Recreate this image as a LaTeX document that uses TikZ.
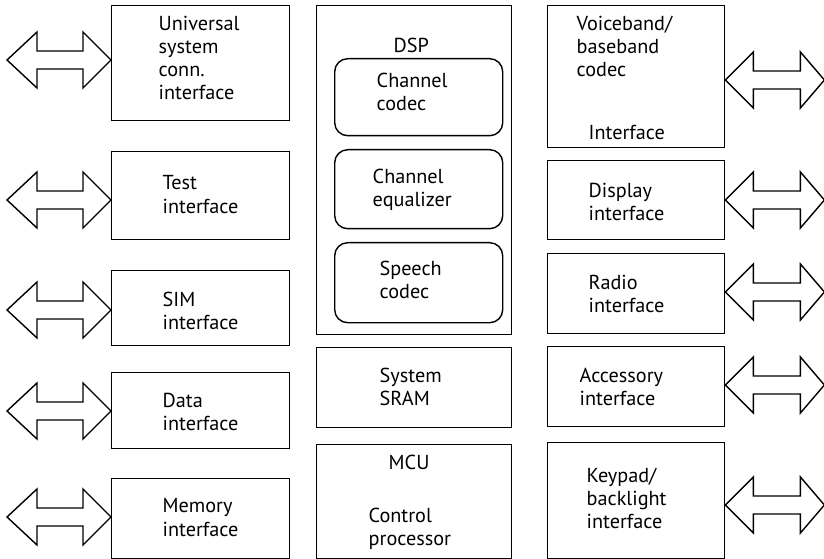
\documentclass[tikz,border=0pt]{standalone}
\usepackage{fontspec}
\setmainfont{PT Sans}
\begin{document}
\begin{tikzpicture}[x=1bp,y=-1bp, line width=1.4bp, line join=miter,
  box/.style={draw, rectangle, inner sep=0pt, anchor=north west},
  lbox/.style={box, minimum width=178bp},
  cbox/.style={box, minimum width=195bp},
  rtbox/.style={box, minimum width=177bp},
  rbox/.style={box, rounded corners=13bp, minimum width=168bp},
  lbl/.style={align=left, inner sep=0pt, anchor=north west, font=\fontsize{20.3}{23.3}\selectfont},
  larr/.pic={\draw (0,0) -- (-28,-28) -- (-28,-9) -- (-74,-9) -- (-74,-28) -- (-104,0)
                -- (-74,28) -- (-74,9) -- (-28,9) -- (-28,28) -- cycle;},
  rarr/.pic={\draw (0,0) -- (28,-28) -- (28,-9) -- (75,-9) -- (75,-28) -- (99,0)
                -- (75,28) -- (75,9) -- (28,9) -- (28,28) -- cycle;}]
\useasboundingbox (0,0) rectangle (824,559);

% left column
\node[lbox, minimum height=115bp] (univ) at (111,5) {};
\node[lbox, minimum height=88bp]  (test) at (111,151) {};
\node[lbox, minimum height=75bp]  (sim)  at (111,270) {};
\node[lbox, minimum height=76bp]  (data) at (111,372) {};
\node[lbox, minimum height=80bp]  (mem)  at (111,478) {};
\node[lbl] (tuniv) at (158,15) {Universal\\system\\conn.\\interface};
\node[lbl] (ttest) at (162,175) {Test\\interface};
\node[lbl] (tsim)  at (162,291) {SIM\\interface};
\node[lbl] (tdata) at (162,392) {Data\\interface};
\node[lbl] (tmem)  at (162,498) {Memory\\interface};

% centre column
\node[cbox, minimum height=329bp] (dsp)  at (316,5) {};
\node[rbox, minimum height=77bp]  (chc)  at (334,58) {};
\node[rbox, minimum height=79bp]  (cheq) at (334,149) {};
\node[rbox, minimum height=80bp]  (spc)  at (334,242) {};
\node[cbox, minimum height=80bp]  (sram) at (316,347) {};
\node[cbox, minimum height=114bp] (mcu)  at (316,444) {};
\node[lbl] (tdsp)  at (393,37)  {DSP};
\node[lbl] (tchc)  at (376,72)  {Channel\\codec};
\node[lbl] (tcheq) at (372,168) {Channel\\equalizer};
\node[lbl] (tspc)  at (379,260) {Speech\\codec};
\node[lbl] (tsram) at (379,367) {System\\SRAM};
\node[lbl] (tmcu)  at (388,454) {MCU};
\node[lbl] (tctl)  at (368,507) {Control\\processor};

% right column
\node[rtbox, minimum height=142bp] (voice) at (547,5) {};
\node[rtbox, minimum height=79bp]  (disp)  at (547,160) {};
\node[rtbox, minimum height=80bp]  (radio) at (547,253) {};
\node[rtbox, minimum height=80bp]  (acc)   at (547,346) {};
\node[rtbox, minimum height=116bp] (key)   at (547,442) {};
\node[lbl] (tvoice) at (576,15)  {Voiceband/\\baseband\\codec};
\node[lbl] (tif)    at (588,125) {Interface};
\node[lbl] (tdisp)  at (588,182) {Display\\interface};
\node[lbl] (tradio) at (588,274) {Radio\\interface};
\node[lbl] (tacc)   at (579,367) {Accessory\\interface};
\node[lbl] (tkey)   at (586,467) {Keypad/\\backlight\\interface};

% arrows
\pic at (univ.west |- 0,60) {larr};
\pic at (test.west |- 0,200) {larr};
\pic at (sim.west |- 0,310) {larr};
\pic at (data.west |- 0,411) {larr};
\pic at (mem.west |- 0,517) {larr};
\pic at (voice.east |- 0,80) {rarr};
\pic at (disp.east |- 0,200) {rarr};
\pic at (radio.east |- 0,292) {rarr};
\pic at (acc.east |- 0,385) {rarr};
\pic at (key.east |- 0,505) {rarr};
\end{tikzpicture}
\end{document}
